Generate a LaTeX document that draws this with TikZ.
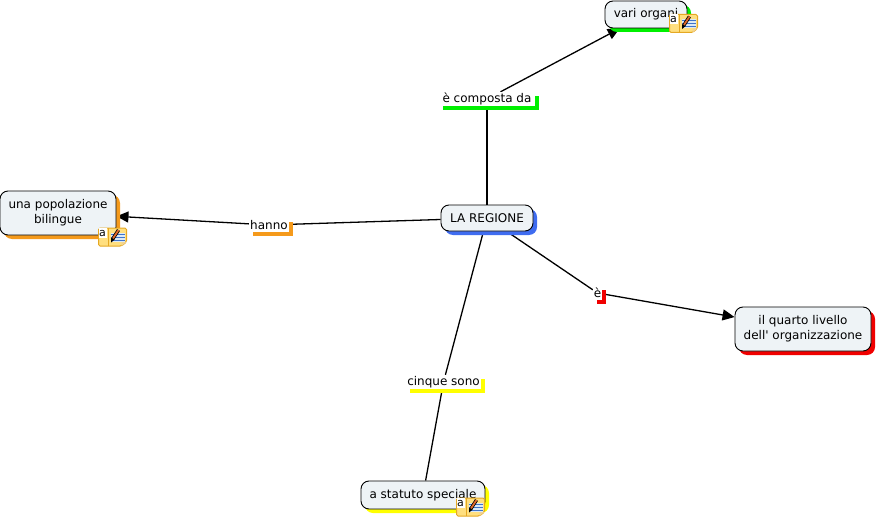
\documentclass[tikz,border=0pt]{standalone}
\usepackage{fontspec}
\newfontfamily\mapfont{DejaVu Sans}
\usetikzlibrary{arrows.meta,backgrounds,positioning,shadows}

\tikzset{
    concept/.style={draw=black,line width=0.9pt,rounded corners=8pt,fill=boxfill,align=center,
        inner sep=0pt,general shadow={fill=#1,shadow xshift=4pt,shadow yshift=-4pt}},
    linkphrase/.style={fill=white,inner sep=0pt,minimum height=14pt,
        general shadow={fill=#1,shadow xshift=4pt,shadow yshift=-4pt}},
    noteicon/.pic={
        % folded yellow note, letter box, lined sheet, pencil
        \path[fill=noteyellow,draw=noteedge,line width=1pt,rounded corners=1.5pt]
            (-14,9) -- (14,9) -- (14,-5) -- (9,-9) -- (-14,-9) -- cycle;
        \draw[noteedge,line width=0.7pt] (-4.5,9) -- (-4.5,-9);
        \fill[white] (-14,9) rectangle (-6,-1);
        \node[inner sep=0pt,font=\mapfont\fontsize{11}{11}\selectfont] (-letter) at (-10,4) {a};
        \fill[paperblue] (-2,4.5) rectangle (12,-5);
        \foreach \y in {3,0,-3} \draw[linecolor,line width=1pt] (-2,\y) -- (12,\y);
        \draw[black,line width=3.4pt] (6,7) -- (0.5,-1.5);
        \draw[pencilred,line width=1.8pt] (6,7) -- (0.5,-1.5);
        \fill[black] (-1.5,-0.5) -- (2.2,-2.6) -- (-1.5,-5.5) -- cycle;
        \fill[noteedge!50!white] (9,-9) -- (14,-5) -- (9,-5) -- cycle;
    }
}
\definecolor{boxfill}{HTML}{EEF3F6}
\definecolor{noteyellow}{HTML}{FFDF7F}
\definecolor{noteedge}{HTML}{E5A823}
\definecolor{linecolor}{HTML}{3F74C9}
\definecolor{paperblue}{HTML}{DCE9F5}
\definecolor{pencilred}{HTML}{E0682A}
\definecolor{regionblue}{HTML}{3F6CF0}
\definecolor{linkgreen}{HTML}{00F000}
\definecolor{linkorange}{HTML}{F59A1B}
\definecolor{linkred}{HTML}{F00000}
\definecolor{linkyellow}{HTML}{FFFF00}

\begin{document}
\begin{tikzpicture}[x=1pt,y=1pt,on grid,font=\mapfont\fontsize{12}{15}\selectfont,
    >={Triangle[length=12pt,width=11pt]}]
    \useasboundingbox (0,0) rectangle (876,-519);

    % concepts and linking phrases, all placed from the central box
    \node[concept=regionblue,minimum width=92pt,minimum height=26pt] (regione) at (487,-218) {LA REGIONE};
    \node[linkphrase=linkgreen,minimum width=96pt] (composta) [above=119pt of regione] {è composta da};
    \node[concept=linkgreen,minimum width=82pt,minimum height=27pt] (organi) [above right=84.5pt and 159pt of composta] {vari organi};
    \node[linkphrase=linkorange,minimum width=40pt] (hanno) [below left=7pt and 218pt of regione] {hanno};
    \node[concept=linkorange,minimum width=116pt,minimum height=44pt] (popolazione) [above left=12pt and 211pt of hanno] {una popolazione\\bilingue};
    \node[linkphrase=linkred,minimum width=9pt] (e) [below right=75pt and 110.5pt of regione] {è};
    \node[concept=linkred,minimum width=136pt,minimum height=44pt] (quarto) [below right=36pt and 205.5pt of e] {il quarto livello\\dell' organizzazione};
    \node[linkphrase=linkyellow,minimum width=75pt] (cinque) [below left=164pt and 43.5pt of regione] {cinque sono};
    \node[concept=linkyellow,minimum width=124pt,minimum height=28pt] (statuto) [below left=113pt and 20.5pt of cinque] {a statuto speciale};

    % note icons on top of their boxes
    \pic (noteorgani) at (683.5,-23.5) {noteicon};
    \pic (notepopolazione) at (112.5,-237) {noteicon};
    \pic (notestatuto) at (470.5,-507) {noteicon};

    % connectors go behind the shadows
    \begin{pgfonlayer}{background}
    \path[->,line width=1.3pt]
    (regione) edge[-] (composta)
              edge[-] (hanno)
              edge[-] (e)
              edge[-] (cinque)
    (composta) edge (organi)
    (hanno) edge (popolazione)
    (e) edge (quarto)
    (cinque) edge[-] (statuto);
    \end{pgfonlayer}
\end{tikzpicture}
\end{document}
